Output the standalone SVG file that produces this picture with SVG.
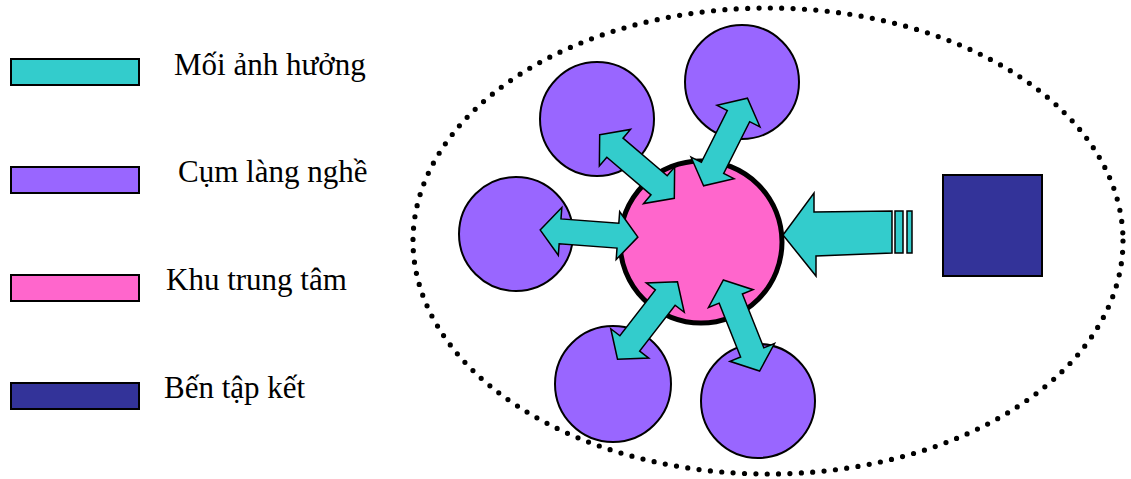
<svg xmlns="http://www.w3.org/2000/svg" width="1131" height="479" viewBox="0 0 1131 479">
  <style>
    .lbl { font-family: "Liberation Serif", "Times New Roman", serif; font-size: 31px; fill: #000; }
    .cyan { fill: #33CCCC; stroke: #000; stroke-width: 1.5; stroke-linejoin: miter; }
    .purple { fill: #9966FF; stroke: #000; stroke-width: 2; }
    .pink { fill: #FF66CC; stroke: #000; stroke-width: 5; }
    .navy { fill: #333399; stroke: #000; stroke-width: 2; }
    .key { stroke-width: 2; }
    .dots { fill: none; stroke: #000; stroke-width: 5.2; stroke-linecap: round; stroke-dasharray: 0 11.4; }
  </style>
  <defs>
    <path id="darrow" d="M -49 0 L -29 -24 L -29 -12.5 L 29 -12.5 L 29 -24 L 49 0 L 29 24 L 29 12.5 L -29 12.5 L -29 24 Z"/>
  </defs>
  <rect width="1131" height="479" fill="#fff"/>

  <g id="legend">
    <g id="legend-influence">
      <rect class="cyan key" x="11" y="59" width="128" height="26"/>
      <text class="lbl" x="174" y="75">Mối ảnh hưởng</text>
    </g>
    <g id="legend-cluster">
      <rect class="purple key" x="11" y="167" width="128" height="26"/>
      <text class="lbl" x="178" y="182">Cụm làng nghề</text>
    </g>
    <g id="legend-center">
      <rect class="pink key" x="11" y="275" width="128" height="26"/>
      <text class="lbl" x="166" y="290">Khu trung tâm</text>
    </g>
    <g id="legend-depot">
      <rect class="navy key" x="11" y="383" width="128" height="26"/>
      <text class="lbl" x="164" y="398">Bến tập kết</text>
    </g>
  </g>

  <g id="boundary">
    <ellipse class="dots" cx="768" cy="241" rx="355" ry="233"/>
  </g>

  <g id="cluster-top-left"><circle class="purple" cx="597" cy="119" r="57"/></g>
  <g id="cluster-top-right"><circle class="purple" cx="742" cy="82" r="57"/></g>
  <g id="cluster-left"><circle class="purple" cx="516" cy="234" r="57"/></g>
  <g id="cluster-bottom-left"><circle class="purple" cx="613" cy="384" r="58"/></g>
  <g id="cluster-bottom-right"><circle class="purple" cx="758" cy="401" r="57"/></g>

  <g id="center"><circle class="pink" cx="701" cy="242" r="81"/></g>

  <g id="depot"><rect class="navy" x="943" y="175" width="99" height="101"/></g>

  <g id="connectors">
    <use href="#darrow" class="cyan" transform="translate(589 233.5) rotate(4.2)"/>
    <use href="#darrow" class="cyan" transform="translate(637 166.5) rotate(40.4)"/>
    <use href="#darrow" class="cyan" transform="translate(725.5 142) rotate(-63.4)"/>
    <use href="#darrow" class="cyan" transform="translate(647.5 320.5) rotate(-52.3)"/>
    <use href="#darrow" class="cyan" transform="translate(741.5 325.5) rotate(68.3)"/>
    <g id="depot-arrow">
      <polygon class="cyan" points="783,235 814,193 814,212 892,211 892,253 816,256 816,276"/>
      <rect class="cyan" x="895" y="211" width="8" height="42"/>
      <rect class="cyan" x="907" y="211" width="5" height="42"/>
    </g>
  </g>
</svg>
